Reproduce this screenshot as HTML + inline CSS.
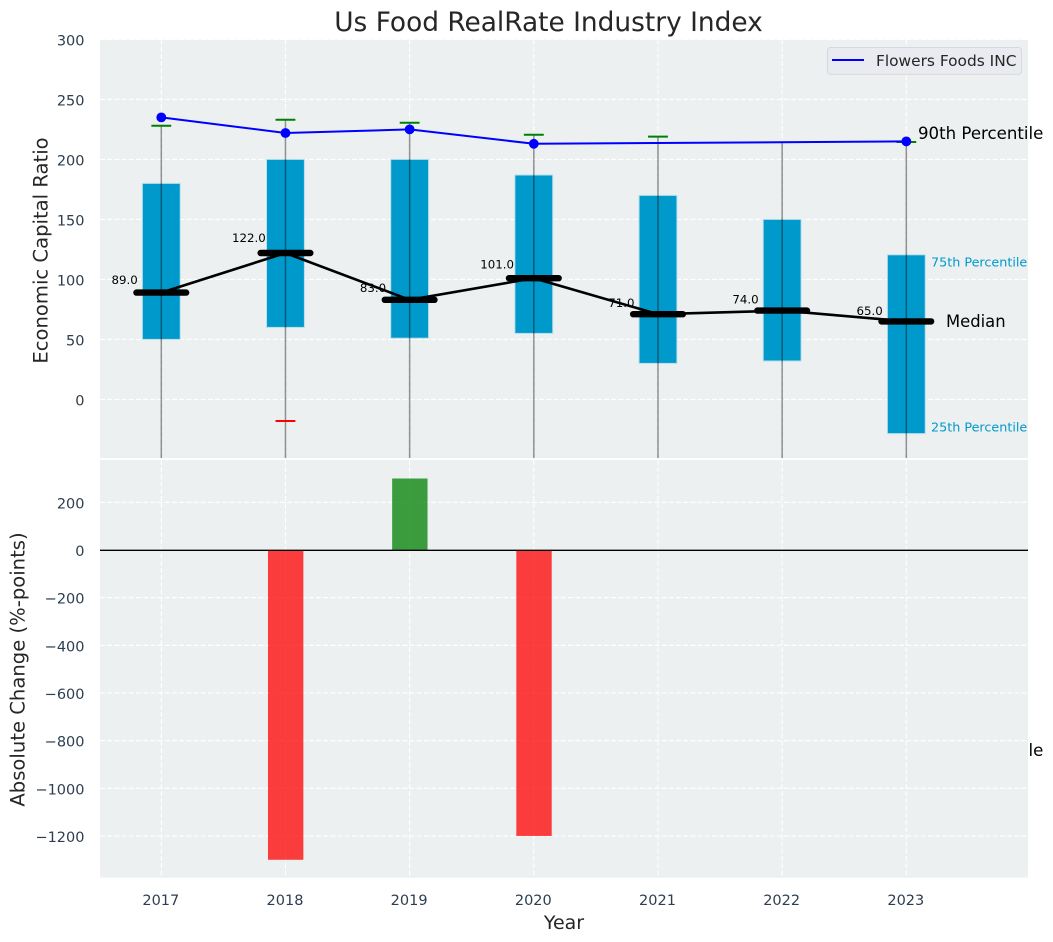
<!DOCTYPE html>
<html>
<head>
<meta charset="utf-8">
<title>Us Food RealRate Industry Index</title>
<style>
html,body{margin:0;padding:0;background:#fff;}
svg{display:block;font-family:"DejaVu Sans","Liberation Sans",sans-serif;}
</style>
</head>
<body>
<svg id="chart" width="1053" height="942" viewBox="0 0 1053 942" xmlns="http://www.w3.org/2000/svg">
<defs>
<clipPath id="upper-clip"><rect x="100" y="40" width="928" height="418"/></clipPath>
<clipPath id="lower-clip"><rect x="100" y="460" width="928" height="418"/></clipPath>
</defs>
</svg>
<script>
const years = ['2017','2018','2019','2020','2021','2022','2023'];
const box25 = [50,60,51,55,30,32,-28.5];
const box75 = [180,200,200,187,170,150,120.5];
const medians = [89,122,83,101,71,74,65];
const medianLabels = ['89.0','122.0','83.0','101.0','71.0','74.0','65.0'];
const whiskerTop = [228,233,230.5,220.5,219,215,214.5];
const whiskerBottom = [-100,-100,-100,-100,-100,-100,-100];
const greenCaps = [228,233,230.5,220.5,219,null,214.5];
const redCaps = [null,-18,null,null,null,null,null];
const companyValues = [235,222,225,213,null,null,215];
const changeValues = [null,-1300,300,-1200,0,0,0];
const upperTicks = [300,250,200,150,100,50,0];
const lowerTicks = [200,0,-200,-400,-600,-800,-1000,-1200];

const svg = document.getElementById('chart');
const NS = 'http://www.w3.org/2000/svg';
const xPos = function(i){ return 161.3 + 124.17 * i; };
const xUnits = function(u){ return 124.17 * u; };
const yUpper = function(v){ return 399.4 - 1.2 * v; };
const yLower = function(v){ return 550 - 0.2383 * v; };

function mk(tag, attrs, parent){
  const el = document.createElementNS(NS, tag);
  for (const k in attrs){ el.setAttribute(k, attrs[k]); }
  (parent || svg).appendChild(el);
  return el;
}
function group(clip){
  const g = mk('g', clip ? {'clip-path':'url(#' + clip + ')'} : {});
  return g;
}
function txt(str, x, y, size, fill, anchor, parent){
  const t = mk('text', {x:x, y:y, 'font-size':size, fill:fill, 'text-anchor':anchor || 'start'}, parent);
  t.textContent = str;
  return t;
}

/* annotation that sits underneath the lower panel */
const hiddenNote = txt('10th Percentile', 918, 756, 16.6, '#000000');



/* panels */
const upperPanel = mk('rect', {x:100, y:39.5, width:928, height:418.5, fill:'#ecf0f1'});


const lowerPanel = mk('rect', {x:100, y:460, width:928, height:417.7, fill:'#ecf0f1'});



/* grid */
const gridGroup = group();


upperTicks.forEach(function(v){
  const l = mk('line', {x1:100, x2:1028, y1:yUpper(v), y2:yUpper(v), stroke:'#ffffff', 'stroke-width':1.1, 'stroke-dasharray':'5 2.2'}, gridGroup);
  
  
});
lowerTicks.forEach(function(v){
  const l = mk('line', {x1:100, x2:1028, y1:yLower(v), y2:yLower(v), stroke:'#ffffff', 'stroke-width':1.1, 'stroke-dasharray':'5 2.2'}, gridGroup);
  
  
});
years.forEach(function(y, i){
  const a = mk('line', {x1:xPos(i), x2:xPos(i), y1:39.5, y2:458, stroke:'#ffffff', 'stroke-width':1.1, 'stroke-dasharray':'5 2.2'}, gridGroup);
  
  
  const b = mk('line', {x1:xPos(i), x2:xPos(i), y1:460, y2:877.7, stroke:'#ffffff', 'stroke-width':1.1, 'stroke-dasharray':'5 2.2'}, gridGroup);
  
  
});

/* upper marks */
const upper = group('upper-clip');



years.forEach(function(y, i){
  const w = xUnits(0.305);
  const r = mk('rect', {x:xPos(i) - w / 2, y:yUpper(box75[i]), width:w, height:yUpper(box25[i]) - yUpper(box75[i]), fill:'#0099cc', stroke:'#b9dfec', 'stroke-width':1}, upper);
  
  
});

years.forEach(function(y, i){
  const l = mk('line', {x1:xPos(i), x2:xPos(i), y1:yUpper(whiskerTop[i]), y2:yUpper(whiskerBottom[i]), stroke:'#000000', 'stroke-opacity':0.42, 'stroke-width':1.5}, upper);
  
  
});

years.forEach(function(y, i){
  const half = xUnits(0.08);
  if (greenCaps[i] !== null){
    const c = mk('line', {x1:xPos(i) - half, x2:xPos(i) + half, y1:yUpper(greenCaps[i]), y2:yUpper(greenCaps[i]), stroke:'#008000', 'stroke-width':2}, upper);
    
    
  }
  if (redCaps[i] !== null){
    const c = mk('line', {x1:xPos(i) - half, x2:xPos(i) + half, y1:yUpper(redCaps[i]), y2:yUpper(redCaps[i]), stroke:'#ff0000', 'stroke-width':2}, upper);
    
    
  }
});

years.forEach(function(y, i){
  const t = txt(medianLabels[i], xPos(i) - xUnits(0.295), yUpper(medians[i] * 1.07) - 1, 11.8, '#000000', 'middle');
  
  
});

const medianPath = medians.map(function(v, i){ return xPos(i) + ',' + yUpper(v); }).join(' ');
const medianLine = mk('polyline', {points:medianPath, fill:'none', stroke:'#000000', 'stroke-width':2.6}, upper);



years.forEach(function(y, i){
  const half = xUnits(0.2);
  const m = mk('line', {x1:xPos(i) - half, x2:xPos(i) + half, y1:yUpper(medians[i]), y2:yUpper(medians[i]), stroke:'#000000', 'stroke-width':6.4, 'stroke-linecap':'round'}, upper);
  
  
});

const companyPath = [];
companyValues.forEach(function(v, i){
  if (v !== null){ companyPath.push(xPos(i) + ',' + yUpper(v)); }
});
const companyLine = mk('polyline', {points:companyPath.join(' '), fill:'none', stroke:'#0000ff', 'stroke-width':2}, upper);


companyValues.forEach(function(v, i){
  if (v !== null){
    const p = mk('circle', {cx:xPos(i), cy:yUpper(v), r:4.9, fill:'#0000ff'}, upper);
    
    
  }
});

/* lower marks */
const lower = group('lower-clip');


changeValues.forEach(function(v, i){
  if (v === null || v === 0){ return; }
  const w = xUnits(0.285);
  const top = Math.min(yLower(v), yLower(0));
  const h = Math.abs(yLower(v) - yLower(0));
  const b = mk('rect', {x:xPos(i) - w / 2 + 0.2, y:top, width:w, height:h, fill:v < 0 ? '#ff0000' : '#008000', 'fill-opacity':0.75}, lower);
  
  
});
const zeroLine = mk('line', {x1:100, x2:1028, y1:yLower(0) + 0.3, y2:yLower(0) + 0.3, stroke:'#000000', 'stroke-width':1.4});



/* tick labels */
upperTicks.forEach(function(v){
  const t = txt(String(v), 84.5, yUpper(v) + 6, 14.5, '#2c3e50', 'end');
  
  
});
lowerTicks.forEach(function(v){
  const t = txt(String(v).replace('-', '\u2212'), 84.5, yLower(v) + 6, 14.5, '#2c3e50', 'end');
  
  
});
years.forEach(function(y, i){
  const t = txt(y, xPos(i) - 0.5, 905, 14.5, '#2c3e50', 'middle');
  
  
});

/* titles */
const chartTitle = txt('Us Food RealRate Industry Index', 548.5, 31, 26.4, '#262626', 'middle');


const xTitle = txt('Year', 564, 929, 19, '#262626', 'middle');


const yTitleUpper = txt('Economic Capital Ratio', 0, 0, 19.6, '#262626', 'middle');
yTitleUpper.setAttribute('transform', 'translate(47.5 250.5) rotate(-90)');


const yTitleLower = txt('Absolute Change (%-points)', 0, 0, 19.6, '#262626', 'middle');
yTitleLower.setAttribute('transform', 'translate(24.5 669.5) rotate(-90)');



/* annotations */
const note90 = txt('90th Percentile', 918, 139, 16.6, '#000000');


const note75 = txt('75th Percentile', 931, 266.5, 12.75, '#0099cc');


const noteMedian = txt('Median', 946, 327, 16.4, '#000000');


const note25 = txt('25th Percentile', 931, 431.5, 12.75, '#0099cc');



/* legend */
const legend = group();


const legendBox = mk('rect', {x:827.5, y:47.5, width:194, height:26.8, rx:3, ry:3, fill:'#eaebf0', stroke:'#d6d8dc', 'stroke-width':1}, legend);


const legendLine = mk('line', {x1:832, x2:864, y1:60, y2:60, stroke:'#0000ff', 'stroke-width':2}, legend);


const legendText = txt('Flowers Foods INC', 876, 66, 15.4, '#262626', 'start', legend);


</script>
</body>
</html>
